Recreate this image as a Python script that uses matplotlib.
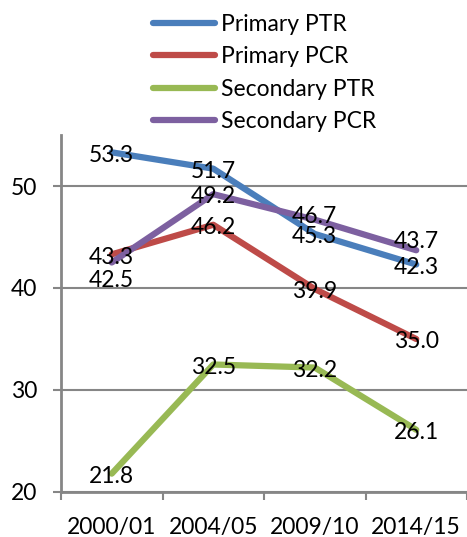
import numpy as np
import matplotlib.pyplot as plt

periods = ['2000/01', '2004/05', '2009/10', '2014/15']
series_names = ['Primary PTR', 'Primary PCR', 'Secondary PTR', 'Secondary PCR']
primary_ptr = [53.3, 51.7, 45.3, 42.3]
primary_pcr = [43.3, 46.2, 39.9, 35.0]
secondary_ptr = [21.8, 32.5, 32.2, 26.1]
secondary_pcr = [42.5, 49.2, 46.7, 43.7]

colors = ['#4A7EBB', '#BE4B48', '#98B954', '#7D60A0']
# small vertical nudges (points) for labels that Excel moved off-centre
nudges = {(3, 0): -11, (3, 2): 4, (3, 3): 8}

plt.rcParams['font.family'] = ['Lato', 'DejaVu Sans']
fs = 16.5

fig = plt.figure(figsize=(4.67, 5.37), dpi=100)
ax = fig.add_axes([61 / 467, 45 / 537, 406 / 467, 357 / 537])

x = np.arange(len(periods))
all_series = [primary_ptr, primary_pcr, secondary_ptr, secondary_pcr]
for k, (name, vals) in enumerate(zip(series_names, all_series)):
    ax.plot(x, vals, color=colors[k], lw=4.5, label=name,
            solid_capstyle='round', solid_joinstyle='round', zorder=2 + k * 0.1)

for k, vals in enumerate(all_series):
    for i, v in enumerate(vals):
        dy = nudges.get((k, i), 0)
        ax.annotate(f'{v:.1f}', (x[i], v), xytext=(0, -2 + dy), textcoords='offset points',
                    ha='center', va='center', fontsize=fs, color='black', zorder=5)

ax.set_xlim(-0.5, 3.5)
ax.set_ylim(20, 55)
ax.set_yticks([20, 30, 40, 50])
ax.set_xticks(x)
ax.set_xticklabels(periods)
ax.set_xticks(np.arange(-0.5, 4, 1), minor=True)
ax.tick_params(axis='x', which='major', length=0, pad=18, labelsize=fs)
ax.tick_params(axis='x', which='minor', length=6, width=1.5, color='#868686')
ax.tick_params(axis='y', length=6, width=1.5, color='#868686', pad=11, labelsize=fs)

ax.grid(axis='y', color='#868686', lw=1.5)
ax.set_axisbelow(True)
for s in ['top', 'right']:
    ax.spines[s].set_visible(False)
for s in ['left', 'bottom']:
    ax.spines[s].set_color('#868686')
    ax.spines[s].set_linewidth(2)

fig.legend(loc='upper left', bbox_to_anchor=(153 / 467, 1 - 14 / 537), frameon=False,
           fontsize=fs, handlelength=2.7, handletextpad=0.25, labelspacing=0.5,
           borderpad=0, borderaxespad=0)

fig.savefig('out.png', dpi=100)
